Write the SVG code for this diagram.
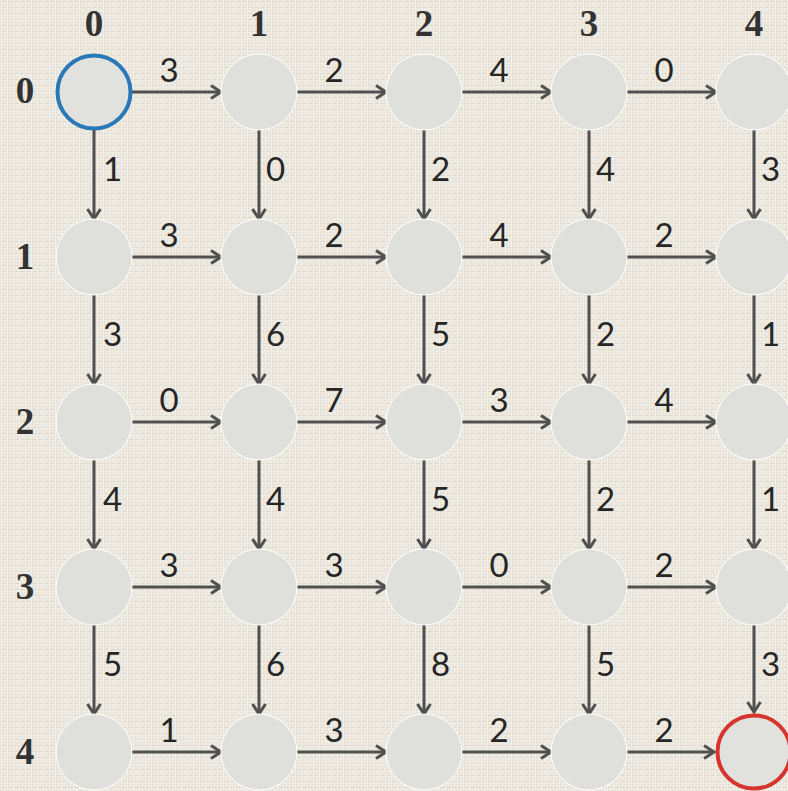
<svg xmlns="http://www.w3.org/2000/svg" width="788" height="791" viewBox="0 0 788 791">
<defs>
<pattern id="linen" width="6" height="6" patternUnits="userSpaceOnUse">
<rect width="6" height="6" fill="#ece8de"/>
<path d="M0,1.5 H6 M0,4.5 H3" stroke="#e0dbd0" stroke-width="1"/>
<path d="M1.5,0 V6 M4.5,2 V5" stroke="#f3f0e9" stroke-width="1"/>
</pattern>
<marker id="arr" markerUnits="userSpaceOnUse" markerWidth="16" markerHeight="18" refX="13" refY="8" orient="auto">
<path d="M3,1.5 L13,8 L3,14.5" fill="none" stroke="#505050" stroke-width="3" stroke-linejoin="miter"/>
</marker>
</defs>
<style>
.e{stroke:#505050;stroke-width:3;fill:none;marker-end:url(#arr)}
.n{fill:#dfdfdc;stroke:#ffffff;stroke-width:1}
.w{font-family:Lato,"Open Sans",sans-serif;font-size:33px;fill:#262626}
.wh{text-anchor:middle}
.ax{font-family:"Liberation Serif",serif;font-weight:bold;font-size:37px;fill:#333333;text-anchor:middle}
</style>
<rect width="788" height="791" fill="url(#linen)"/>
<g id="axis-labels">
<text class="ax" x="94" y="36">0</text>
<text class="ax" x="259" y="36">1</text>
<text class="ax" x="424" y="36">2</text>
<text class="ax" x="589" y="36">3</text>
<text class="ax" x="754" y="36">4</text>
<text class="ax" x="25" y="103">0</text>
<text class="ax" x="25" y="269">1</text>
<text class="ax" x="25" y="434">2</text>
<text class="ax" x="25" y="599">3</text>
<text class="ax" x="25" y="764">4</text>
</g>
<g id="connectors">
<line class="e" x1="132" y1="92" x2="221" y2="92"/>
<line class="e" x1="297" y1="92" x2="386" y2="92"/>
<line class="e" x1="462" y1="92" x2="551" y2="92"/>
<line class="e" x1="627" y1="92" x2="716" y2="92"/>
<line class="e" x1="132" y1="257" x2="221" y2="257"/>
<line class="e" x1="297" y1="257" x2="386" y2="257"/>
<line class="e" x1="462" y1="257" x2="551" y2="257"/>
<line class="e" x1="627" y1="257" x2="716" y2="257"/>
<line class="e" x1="132" y1="422" x2="221" y2="422"/>
<line class="e" x1="297" y1="422" x2="386" y2="422"/>
<line class="e" x1="462" y1="422" x2="551" y2="422"/>
<line class="e" x1="627" y1="422" x2="716" y2="422"/>
<line class="e" x1="132" y1="587" x2="221" y2="587"/>
<line class="e" x1="297" y1="587" x2="386" y2="587"/>
<line class="e" x1="462" y1="587" x2="551" y2="587"/>
<line class="e" x1="627" y1="587" x2="716" y2="587"/>
<line class="e" x1="132" y1="752" x2="221" y2="752"/>
<line class="e" x1="297" y1="752" x2="386" y2="752"/>
<line class="e" x1="462" y1="752" x2="551" y2="752"/>
<line class="e" x1="627" y1="752" x2="714" y2="752"/>
<line class="e" x1="94" y1="130" x2="94" y2="219"/>
<line class="e" x1="259" y1="130" x2="259" y2="219"/>
<line class="e" x1="424" y1="130" x2="424" y2="219"/>
<line class="e" x1="589" y1="130" x2="589" y2="219"/>
<line class="e" x1="754" y1="130" x2="754" y2="219"/>
<line class="e" x1="94" y1="295" x2="94" y2="384"/>
<line class="e" x1="259" y1="295" x2="259" y2="384"/>
<line class="e" x1="424" y1="295" x2="424" y2="384"/>
<line class="e" x1="589" y1="295" x2="589" y2="384"/>
<line class="e" x1="754" y1="295" x2="754" y2="384"/>
<line class="e" x1="94" y1="460" x2="94" y2="549"/>
<line class="e" x1="259" y1="460" x2="259" y2="549"/>
<line class="e" x1="424" y1="460" x2="424" y2="549"/>
<line class="e" x1="589" y1="460" x2="589" y2="549"/>
<line class="e" x1="754" y1="460" x2="754" y2="549"/>
<line class="e" x1="94" y1="625" x2="94" y2="714"/>
<line class="e" x1="259" y1="625" x2="259" y2="714"/>
<line class="e" x1="424" y1="625" x2="424" y2="714"/>
<line class="e" x1="589" y1="625" x2="589" y2="714"/>
<line class="e" x1="754" y1="625" x2="754" y2="712"/>
</g>
<g id="edge-labels">
<text class="w wh" x="169" y="82">3</text>
<text class="w wh" x="334" y="82">2</text>
<text class="w wh" x="499" y="82">4</text>
<text class="w wh" x="664" y="82">0</text>
<text class="w wh" x="169" y="247">3</text>
<text class="w wh" x="334" y="247">2</text>
<text class="w wh" x="499" y="247">4</text>
<text class="w wh" x="664" y="247">2</text>
<text class="w wh" x="169" y="412">0</text>
<text class="w wh" x="334" y="412">7</text>
<text class="w wh" x="499" y="412">3</text>
<text class="w wh" x="664" y="412">4</text>
<text class="w wh" x="169" y="577">3</text>
<text class="w wh" x="334" y="577">3</text>
<text class="w wh" x="499" y="577">0</text>
<text class="w wh" x="664" y="577">2</text>
<text class="w wh" x="169" y="742">1</text>
<text class="w wh" x="334" y="742">3</text>
<text class="w wh" x="499" y="742">2</text>
<text class="w wh" x="664" y="742">2</text>
<text class="w" x="103" y="181">1</text>
<text class="w" x="266" y="181">0</text>
<text class="w" x="431" y="181">2</text>
<text class="w" x="596" y="181">4</text>
<text class="w" x="761" y="181">3</text>
<text class="w" x="103" y="346">3</text>
<text class="w" x="266" y="346">6</text>
<text class="w" x="431" y="346">5</text>
<text class="w" x="596" y="346">2</text>
<text class="w" x="761" y="346">1</text>
<text class="w" x="103" y="511">4</text>
<text class="w" x="266" y="511">4</text>
<text class="w" x="431" y="511">5</text>
<text class="w" x="596" y="511">2</text>
<text class="w" x="761" y="511">1</text>
<text class="w" x="103" y="676">5</text>
<text class="w" x="266" y="676">6</text>
<text class="w" x="431" y="676">8</text>
<text class="w" x="596" y="676">5</text>
<text class="w" x="761" y="676">3</text>
</g>
<g id="n00"><circle cx="94" cy="92" r="36.5" fill="#e1e1de" stroke="#2b78b9" stroke-width="4"/></g>
<g id="n01"><circle class="n" cx="259" cy="92" r="38"/></g>
<g id="n02"><circle class="n" cx="424" cy="92" r="38"/></g>
<g id="n03"><circle class="n" cx="589" cy="92" r="38"/></g>
<g id="n04"><circle class="n" cx="754" cy="92" r="38"/></g>
<g id="n10"><circle class="n" cx="94" cy="257" r="38"/></g>
<g id="n11"><circle class="n" cx="259" cy="257" r="38"/></g>
<g id="n12"><circle class="n" cx="424" cy="257" r="38"/></g>
<g id="n13"><circle class="n" cx="589" cy="257" r="38"/></g>
<g id="n14"><circle class="n" cx="754" cy="257" r="38"/></g>
<g id="n20"><circle class="n" cx="94" cy="422" r="38"/></g>
<g id="n21"><circle class="n" cx="259" cy="422" r="38"/></g>
<g id="n22"><circle class="n" cx="424" cy="422" r="38"/></g>
<g id="n23"><circle class="n" cx="589" cy="422" r="38"/></g>
<g id="n24"><circle class="n" cx="754" cy="422" r="38"/></g>
<g id="n30"><circle class="n" cx="94" cy="587" r="38"/></g>
<g id="n31"><circle class="n" cx="259" cy="587" r="38"/></g>
<g id="n32"><circle class="n" cx="424" cy="587" r="38"/></g>
<g id="n33"><circle class="n" cx="589" cy="587" r="38"/></g>
<g id="n34"><circle class="n" cx="754" cy="587" r="38"/></g>
<g id="n40"><circle class="n" cx="94" cy="752" r="38"/></g>
<g id="n41"><circle class="n" cx="259" cy="752" r="38"/></g>
<g id="n42"><circle class="n" cx="424" cy="752" r="38"/></g>
<g id="n43"><circle class="n" cx="589" cy="752" r="38"/></g>
<g id="n44"><circle cx="754" cy="752" r="36.5" fill="#e1e1de" stroke="#d6352f" stroke-width="4"/></g>
</svg>
